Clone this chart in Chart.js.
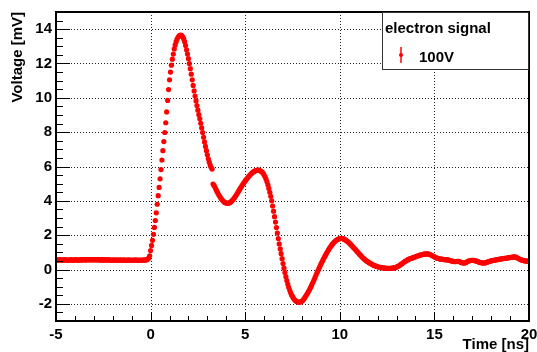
<!DOCTYPE html>
<html>
<head>
<meta charset="utf-8">
<script src="https://cdn.jsdelivr.net/npm/chart.js@4.4.1/dist/chart.umd.min.js"></script>
<style>
  html, body { margin: 0; padding: 0; background: #fff; }
  #sig { display: block; }
</style>
</head>
<body>
<canvas id="sig" width="537" height="352"></canvas>
<script>
// sampling of the scope trace (ns)
var tStep = 0.05;

// flat part before the pulse, -5 ns .. -0.05 ns
var baselineStart = -5;
var baseline = [
  0.55, 0.56, 0.54, 0.55, 0.57, 0.56, 0.55, 0.54, 0.56, 0.57, 0.55, 0.56, 0.55, 0.54, 0.55, 0.56, 0.57, 0.55, 0.54, 0.56,
  0.55, 0.57, 0.56, 0.55, 0.54, 0.56, 0.57, 0.56, 0.55, 0.57, 0.58, 0.56, 0.55, 0.57, 0.58, 0.57, 0.56, 0.57, 0.58, 0.56,
  0.57, 0.58, 0.56, 0.57, 0.58, 0.57, 0.56, 0.55, 0.57, 0.56, 0.55, 0.57, 0.56, 0.55, 0.56, 0.57, 0.55, 0.56, 0.55, 0.54,
  0.55, 0.56, 0.55, 0.54, 0.56, 0.55, 0.54, 0.55, 0.56, 0.55, 0.54, 0.55, 0.56, 0.54, 0.55, 0.54, 0.55, 0.56, 0.54, 0.55,
  0.54, 0.55, 0.54, 0.55, 0.56, 0.54, 0.55, 0.54, 0.55, 0.54, 0.55, 0.54, 0.55, 0.56, 0.55, 0.55, 0.57, 0.60, 0.66, 0.80
];

// main pulse, 0 .. 3.25 ns
var pulseStart = 0;
var pulse = [
  1.10, 1.40, 1.70, 2.05, 2.45, 2.85, 3.30, 3.80, 4.30, 4.78, 5.28, 5.82, 6.38, 6.92, 7.45, 7.98, 8.55, 9.18, 9.85, 10.48,
  11.05, 11.50, 11.90, 12.25, 12.55, 12.85, 13.08, 13.27, 13.42, 13.53, 13.60, 13.64, 13.65, 13.62, 13.55, 13.43, 13.27, 13.05, 12.80, 12.55,
  12.28, 12.00, 11.70, 11.38, 11.05, 10.72, 10.40, 10.10, 9.82, 9.55, 9.28, 9.02, 8.78, 8.52, 8.25, 7.98, 7.70, 7.43, 7.17, 6.92,
  6.68, 6.45, 6.25, 6.08, 5.95, 5.85
];

// ringing after the pulse, 3.3 .. 20 ns
var ringStart = 3.3;
var ringing = [
  4.98, 4.90, 4.80, 4.68, 4.56, 4.45, 4.35, 4.26, 4.18, 4.10, 4.03, 3.97, 3.92, 3.89,
  3.87, 3.86, 3.86, 3.88, 3.91, 3.95, 4.00, 4.06, 4.13, 4.21, 4.29, 4.38, 4.47, 4.56, 4.65, 4.74, 4.83, 4.92, 5.00, 5.08,
  5.16, 5.23, 5.30, 5.37, 5.44, 5.50, 5.56, 5.61, 5.66, 5.70, 5.73, 5.76, 5.78, 5.79, 5.79, 5.78, 5.75, 5.71, 5.67, 5.60,
  5.50, 5.40, 5.27, 5.11, 4.93, 4.72, 4.50, 4.26, 4.00, 3.70, 3.40, 3.08, 2.76, 2.44, 2.12, 1.80, 1.49, 1.20, 0.92, 0.63,
  0.35, 0.08, -0.18, -0.42, -0.64, -0.85, -1.04, -1.20, -1.35, -1.48, -1.57, -1.67, -1.75, -1.81, -1.85, -1.88, -1.90, -1.91, -1.90, -1.88,
  -1.84, -1.79, -1.72, -1.64, -1.55, -1.46, -1.37, -1.27, -1.17, -1.06, -0.94, -0.82, -0.70, -0.57, -0.44, -0.31, -0.18, -0.06, 0.07, 0.19,
  0.31, 0.42, 0.53, 0.64, 0.75, 0.85, 0.95, 1.05, 1.14, 1.23, 1.31, 1.39, 1.46, 1.53, 1.59, 1.64, 1.69, 1.73, 1.76, 1.78,
  1.80, 1.81, 1.81, 1.80, 1.78, 1.75, 1.72, 1.68, 1.64, 1.59, 1.54, 1.49, 1.43, 1.37, 1.31, 1.25, 1.19, 1.13, 1.07, 1.00,
  0.94, 0.88, 0.82, 0.76, 0.70, 0.65, 0.60, 0.55, 0.51, 0.47, 0.43, 0.40, 0.36, 0.33, 0.30, 0.27, 0.24, 0.22, 0.20, 0.18,
  0.16, 0.14, 0.13, 0.12, 0.11, 0.10, 0.09, 0.08, 0.08, 0.07, 0.07, 0.07, 0.07, 0.07, 0.07, 0.08, 0.08, 0.09, 0.10, 0.12,
  0.14, 0.17, 0.20, 0.23, 0.27, 0.31, 0.35, 0.39, 0.43, 0.47, 0.51, 0.54, 0.57, 0.60, 0.62, 0.64, 0.66, 0.68, 0.70, 0.72,
  0.74, 0.76, 0.78, 0.80, 0.82, 0.84, 0.86, 0.87, 0.88, 0.89, 0.90, 0.91, 0.91, 0.91, 0.90, 0.88, 0.86, 0.83, 0.80, 0.77,
  0.74, 0.71, 0.68, 0.66, 0.64, 0.62, 0.61, 0.60, 0.60, 0.59, 0.58, 0.57, 0.57, 0.57, 0.56, 0.55, 0.54, 0.52, 0.50, 0.48,
  0.47, 0.46, 0.46, 0.46, 0.47, 0.48, 0.47, 0.45, 0.42, 0.40, 0.39, 0.38, 0.38, 0.40, 0.43, 0.46, 0.49, 0.51, 0.52, 0.53,
  0.53, 0.53, 0.52, 0.51, 0.50, 0.48, 0.46, 0.43, 0.41, 0.40, 0.39, 0.38, 0.38, 0.38, 0.39, 0.41, 0.43, 0.45, 0.47, 0.49,
  0.50, 0.52, 0.53, 0.54, 0.55, 0.56, 0.57, 0.58, 0.59, 0.60, 0.61, 0.62, 0.63, 0.64, 0.65, 0.65, 0.66, 0.67, 0.68, 0.69,
  0.70, 0.71, 0.72, 0.72, 0.73, 0.73, 0.72, 0.70, 0.67, 0.64, 0.61, 0.58, 0.56, 0.54, 0.52, 0.51, 0.50, 0.49, 0.49, 0.49,
  0.50
];

var xTicks = [-5, 0, 5, 10, 15, 20];
var yTicks = [-2, 0, 2, 4, 6, 8, 10, 12, 14];
var legendTitle = 'electron signal';
var seriesLabel = '100V';
var xTitle = 'Time [ns]';
var yTitle = 'Voltage [mV]';

var fontFamily = "'Liberation Sans', Arial, Helvetica, sans-serif";
var boldFont = 'bold 15px ' + fontFamily;

function toPoints(start, values) {
  return values.map(function (v, i) {
    return { x: +(start + i * tStep).toFixed(2), y: v };
  });
}

var points = toPoints(baselineStart, baseline)
  .concat(toPoints(pulseStart, pulse))
  .concat(toPoints(ringStart, ringing));

// ROOT style frame: dotted grid, inner ticks, titles and legend box
var rootFrame = {
  id: 'rootFrame',
  beforeDatasetsDraw: function (chart) {
    var ctx = chart.ctx, a = chart.chartArea;
    var xs = chart.scales.x, ys = chart.scales.y;
    ctx.save();
    ctx.strokeStyle = '#222';
    ctx.lineWidth = 1;
    ctx.setLineDash([1, 2]);
    ctx.beginPath();
    xTicks.forEach(function (v) {
      var px = Math.round(xs.getPixelForValue(v)) + 0.5;
      if (px > a.left + 3 && px < a.right - 3) {
        ctx.moveTo(px, a.top);
        ctx.lineTo(px, a.bottom);
      }
    });
    yTicks.forEach(function (v) {
      var py = Math.round(ys.getPixelForValue(v)) + 0.5;
      ctx.moveTo(a.left, py);
      ctx.lineTo(a.right, py);
    });
    ctx.stroke();
    ctx.restore();
  },
  afterDatasetsDraw: function (chart) {
    var ctx = chart.ctx, a = chart.chartArea;
    var xs = chart.scales.x, ys = chart.scales.y;
    var v, px, py, major;
    ctx.save();
    ctx.strokeStyle = '#000';
    ctx.lineWidth = 1;
    ctx.beginPath();
    // y ticks every 0.5, major every 2
    for (v = -2.5; v <= 14.5; v += 0.5) {
      major = yTicks.indexOf(v) >= 0;
      py = Math.round(ys.getPixelForValue(v)) + 0.5;
      ctx.moveTo(a.left, py);
      ctx.lineTo(a.left + (major ? 14 : 7), py);
    }
    // x ticks every 1, major every 5
    for (v = -4; v <= 19; v += 1) {
      major = xTicks.indexOf(v) >= 0;
      px = Math.round(xs.getPixelForValue(v)) + 0.5;
      ctx.moveTo(px, a.bottom);
      ctx.lineTo(px, a.bottom - (major ? 9 : 5));
    }
    ctx.stroke();
    ctx.lineWidth = 2;
    ctx.strokeRect(a.left, a.top, a.right - a.left, a.bottom - a.top);
    ctx.restore();
  },
  afterDraw: function (chart) {
    var ctx = chart.ctx, a = chart.chartArea;
    ctx.save();
    ctx.fillStyle = '#000';
    ctx.font = boldFont;
    ctx.textAlign = 'right';
    ctx.textBaseline = 'middle';
    ctx.fillText(xTitle, a.right, 345);
    ctx.translate(18, a.top);
    ctx.rotate(-Math.PI / 2);
    ctx.fillText(yTitle, 0, 0);
    ctx.restore();

    // legend
    var lx = 382, ly = a.top, lw = a.right - lx, lh = 58;
    ctx.save();
    ctx.fillStyle = '#fff';
    ctx.fillRect(lx, ly, lw, lh);
    ctx.strokeStyle = '#333';
    ctx.lineWidth = 1;
    ctx.strokeRect(lx + 0.5, ly + 0.5, lw - 1, lh - 1);
    ctx.fillStyle = '#000';
    ctx.font = boldFont;
    ctx.textAlign = 'left';
    ctx.textBaseline = 'alphabetic';
    ctx.fillText(legendTitle, lx + 3, ly + 21);
    ctx.fillText(seriesLabel, lx + 37, ly + 50);
    ctx.strokeStyle = '#ff0000';
    ctx.lineWidth = 1.5;
    ctx.beginPath();
    ctx.moveTo(lx + 19, ly + 35);
    ctx.lineTo(lx + 19, ly + 51);
    ctx.stroke();
    ctx.fillStyle = '#ff0000';
    ctx.beginPath();
    ctx.arc(lx + 19, ly + 43, 2, 0, Math.PI * 2);
    ctx.fill();
    ctx.restore();
  }
};

new Chart(document.getElementById('sig'), {
  type: 'scatter',
  data: {
    datasets: [{
      label: seriesLabel,
      data: points,
      backgroundColor: '#ff0000',
      borderWidth: 0,
      pointRadius: 2.6,
      pointHoverRadius: 2.6
    }]
  },
  options: {
    responsive: false,
    animation: false,
    layout: { padding: { left: 0, top: 12, right: 8, bottom: 0 } },
    plugins: {
      legend: { display: false },
      tooltip: { enabled: false }
    },
    scales: {
      x: {
        type: 'linear',
        min: -5,
        max: 20,
        afterBuildTicks: function (s) { s.ticks = xTicks.map(function (v) { return { value: v }; }); },
        afterFit: function (s) {
          s.height = 31;
          s.paddingLeft = 0;
          s.paddingRight = 0;
        },
        grid: { display: false, drawTicks: false },
        border: { display: false },
        ticks: {
          color: '#000',
          font: { family: fontFamily, size: 15, weight: 'bold' },
          padding: 5,
          maxRotation: 0,
          autoSkip: false
        }
      },
      y: {
        type: 'linear',
        min: -3,
        max: 15,
        afterBuildTicks: function (s) { s.ticks = yTicks.map(function (v) { return { value: v }; }); },
        afterFit: function (s) {
          s.width = 56;
          s.paddingTop = 0;
          s.paddingBottom = 0;
        },
        grid: { display: false, drawTicks: false },
        border: { display: false },
        ticks: {
          color: '#000',
          font: { family: fontFamily, size: 15, weight: 'bold' },
          padding: 4,
          autoSkip: false
        }
      }
    }
  },
  plugins: [rootFrame]
});
</script>
</body>
</html>
